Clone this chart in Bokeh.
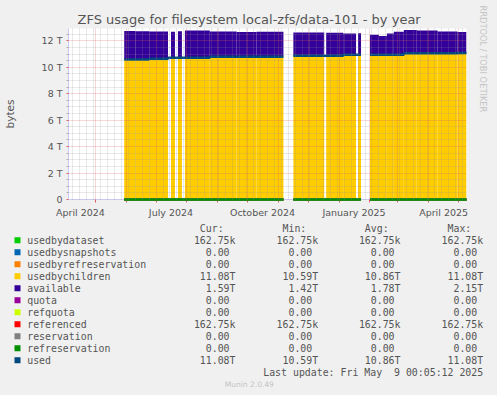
import math
from datetime import datetime, timedelta
from bokeh.plotting import figure
from bokeh.layouts import column
from bokeh.models import Range1d, FixedTicker, Title
from bokeh.core.properties import value
from bokeh.embed import file_html
from bokeh.resources import INLINE

nan = float("nan")
T = 1e12

# ---------------- data ----------------
title_text = "ZFS usage for filesystem local-zfs/data-101 - by year"
range_start = "2024-04-04 00:05"
range_end = "2025-05-09 00:05"

# start of each sample interval (each interval lasts until the next start)
interval_starts = ["2024-05-30", "2024-06-10", "2024-06-24", "2024-07-13", "2024-07-16",
                   "2024-07-20", "2024-07-23", "2024-07-27", "2024-07-30", "2024-08-24",
                   "2024-09-20", "2024-10-10", "2024-11-06", "2024-11-16", "2024-12-17",
                   "2024-12-19", "2025-01-05", "2025-01-18", "2025-01-20", "2025-01-23",
                   "2025-02-01", "2025-02-10", "2025-02-18", "2025-02-25", "2025-03-07",
                   "2025-03-20", "2025-04-10", "2025-04-30"]
usedbychildren_T = [10.59, 10.59, 10.64, nan, 10.72, nan, 10.72, nan, 10.72, 10.80,
                    10.80, 10.80, nan, 10.87, nan, 10.87, 10.95, nan, 10.95, nan,
                    10.95, 10.95, 10.95, 10.95, 11.05, 11.05, 11.05, 11.08]
available_T = [2.15, 2.13, 2.06, nan, 1.97, nan, 2.00, nan, 2.05, 1.90,
               1.86, 1.88, nan, 1.75, nan, 1.73, 1.60, nan, 1.62, nan,
               1.51, 1.42, 1.60, 1.73, 1.77, 1.72, 1.65, 1.59]
used_T = [10.59, 10.59, 10.64, 10.72, 10.72, 10.72, 10.72, 10.72, 10.72, 10.80,
          10.80, 10.80, nan, 10.87, 10.87, 10.87, 10.95, 10.95, 10.95, nan,
          10.95, 10.95, 10.95, 10.95, 11.05, 11.05, 11.05, 11.08]

series_names = ["usedbydataset", "usedbysnapshots", "usedbyrefreservation", "usedbychildren",
                "available", "quota", "refquota", "referenced", "reservation",
                "refreservation", "used"]
series_colors = ["#00CC00", "#0066B3", "#FF8000", "#FFCC00", "#330099", "#990099",
                 "#CCFF00", "#FF0000", "#808080", "#008F00", "#00487D"]
cur_vals = [162.75e3, 0, 0, 11.08e12, 1.59e12, 0, 0, 162.75e3, 0, 0, 11.08e12]
min_vals = [162.75e3, 0, 0, 10.59e12, 1.42e12, 0, 0, 162.75e3, 0, 0, 10.59e12]
avg_vals = [162.75e3, 0, 0, 10.86e12, 1.78e12, 0, 0, 162.75e3, 0, 0, 10.86e12]
max_vals = [162.75e3, 0, 0, 11.08e12, 2.15e12, 0, 0, 162.75e3, 0, 0, 11.08e12]
column_heads = ["Cur:", "Min:", "Avg:", "Max:"]

y_tick_values = [0, 2, 4, 6, 8, 10, 12]
y_tick_labels = ["0", "2 T", "4 T", "6 T", "8 T", "10 T", "12 T"]
x_label_dates = ["2024-04-16", "2024-07-16", "2024-10-16", "2025-01-16", "2025-04-16"]
x_label_texts = ["April 2024", "July 2024", "October 2024", "January 2025", "April 2025"]
last_update_text = "Last update: Fri May\u00a0 9 00:05:12 2025"
munin_text = "Munin 2.0.49"
rrd_text = "RRDTOOL / TOBI OETIKER"

# ---------------- helpers ----------------
EPOCH = datetime(1970, 1, 1)


def dt(s):
    return datetime.fromisoformat(s)


def ms(d):
    return (d - EPOCH).total_seconds() * 1000.0


starts = [dt(s) for s in interval_starts]
edges = starts + [dt(range_end)]


def runs(vals):
    out, i, n = [], 0, len(vals)
    while i < n:
        if math.isnan(vals[i]):
            i += 1
            continue
        j = i
        while j + 1 < n and not math.isnan(vals[j + 1]):
            j += 1
        out.append((i, j))
        i = j + 1
    return out


# ---------------- chart figure ----------------
BG = "#F0F0F0"
TXT = "#555555"
W = 497
CH = 220
p = figure(width=W, height=CH, x_axis_type="datetime",
           x_range=Range1d(dt(range_start), dt(range_end)),
           y_range=Range1d(0, 12.93 * T),
           output_backend="svg", toolbar_location=None,
           min_border_left=66, min_border_right=31, min_border_top=28, min_border_bottom=17)
p.frame_align = False
p.background_fill_color = "white"
p.border_fill_color = BG
p.outline_line_color = None

p.title.text = title_text
p.title.align = "left"
p.title.offset = 9
p.title.standoff = 1
p.title.vertical_align = "middle"
p.title.text_font = "DejaVu Sans"
p.title.text_font_size = "13px"
p.title.text_font_style = "normal"
p.title.text_color = TXT

# vertical credit text on the right
p.add_layout(Title(text=rrd_text, align="left", offset=-23, standoff=19, vertical_align="top",
                   text_font="DejaVu Sans", text_font_size="8.3px", text_font_style="normal",
                   text_color="#C4C4C4"), "right")

# stacked areas
keep = [i for i in range(len(starts)) if not math.isnan(usedbychildren_T[i])]
left = [edges[i] for i in keep]
right = [edges[i + 1] for i in keep]
ch = [usedbychildren_T[i] * T for i in keep]
top = [(usedbychildren_T[i] + available_T[i]) * T for i in keep]
p.quad(left=left, right=right, bottom=0, top=ch, fill_color=series_colors[3], line_color=None)
p.quad(left=left, right=right, bottom=ch, top=top, fill_color=series_colors[4], line_color=None)

# grids on top of areas
month_starts = [datetime(2024, m, 1) for m in range(5, 13)] + [datetime(2025, m, 1) for m in range(1, 6)]
mondays = []
d = datetime(2024, 4, 8)
while d < dt(range_end):
    if d.day != 1:
        mondays.append(d)
    d += timedelta(days=7)
p.xgrid.ticker = FixedTicker(ticks=[ms(m) for m in month_starts], minor_ticks=[ms(m) for m in mondays])
p.ygrid.ticker = FixedTicker(ticks=[v * T for v in y_tick_values],
                             minor_ticks=[k * 0.5 * T for k in range(1, 26) if k % 4 != 0])
for g in (p.xgrid, p.ygrid):
    g.level = "overlay"
    g.grid_line_color = "#E06060"
    g.grid_line_alpha = 0.5
    g.grid_line_dash = "1 1"
    g.minor_grid_line_color = "#909090"
    g.minor_grid_line_alpha = 0.4
    g.minor_grid_line_dash = "1 1"

# lines drawn over the grid
line_runs = runs(used_T)
flat_order = [0, 5, 6, 7, 8, 9]
for idx in flat_order:
    for (i, j) in line_runs:
        xs = edges[i:j + 2]
        ys = [cur_vals[idx]] * len(xs)
        p.line(xs, ys, line_color=series_colors[idx], line_width=2.5, level="overlay")
for (i, j) in line_runs:
    xs = edges[i:j + 2]
    ys = [v * T for v in used_T[i:j + 1]] + [used_T[j] * T]
    p.step(xs, ys, mode="after", line_color=series_colors[10], line_width=2.5, level="overlay")

# axes
AX = "#C8C8F0"
p.xaxis.ticker = FixedTicker(ticks=[ms(dt(s)) for s in x_label_dates],
                             minor_ticks=[ms(m) for m in month_starts])
p.xaxis.major_label_overrides = {ms(dt(s)): t for s, t in zip(x_label_dates, x_label_texts)}
p.xaxis.major_tick_line_color = None
p.xaxis.major_tick_out = 0
p.xaxis.major_tick_in = 0
p.xaxis.minor_tick_line_color = "#E06060"
p.xaxis.minor_tick_out = 3
p.xaxis.minor_tick_in = 0
p.xaxis.major_label_standoff = 4
p.xaxis.axis_line_color = AX
p.xaxis.major_label_text_font = "DejaVu Sans"
p.xaxis.major_label_text_font_size = "9.5px"
p.xaxis.major_label_text_color = TXT

yax = p.yaxis[0]
yax.ticker = FixedTicker(ticks=[v * T for v in y_tick_values],
                         minor_ticks=[k * 0.5 * T for k in range(1, 26) if k % 4 != 0])
yax.major_label_overrides = {v * T: lab for v, lab in zip(y_tick_values, y_tick_labels)}
yax.major_tick_line_color = "#E06060"
yax.major_tick_out = 2
yax.major_tick_in = 0
yax.minor_tick_line_color = "#B0B0B0"
yax.minor_tick_out = 2
yax.minor_tick_in = 0
yax.major_label_standoff = 4
yax.axis_label = "bytes"
yax.axis_label_standoff = 23
yax.axis_label_text_font = "DejaVu Sans"
yax.axis_label_text_font_size = "10.5px"
yax.axis_label_text_font_style = "normal"
yax.axis_label_text_color = TXT
yax.axis_line_color = AX
yax.major_label_text_font = "DejaVu Sans"
yax.major_label_text_font_size = "9.5px"
yax.major_label_text_color = TXT

# ---------------- legend figure ----------------
LH = 395 - CH
q = figure(width=W, height=LH, x_range=Range1d(0, W), y_range=Range1d(LH, 0),
           output_backend="svg", toolbar_location=None,
           x_axis_location=None, y_axis_location=None,
           min_border_left=0, min_border_right=0, min_border_top=0, min_border_bottom=0)
q.frame_align = False
q.grid.visible = False
q.outline_line_color = None
q.background_fill_color = BG
q.border_fill_color = BG

MONO = value("DejaVu Sans Mono")
FS = "9.9px"
CW = 5.95
col_right = [235.0, 317.7, 400.0, 482.7]
head_y = 7.7
row_y = [19.7 + 12 * k for k in range(len(series_names))]


def si(v):
    for pw, s in ((1e12, "T"), (1e9, "G"), (1e6, "M"), (1e3, "k")):
        if abs(v) >= pw:
            return "%.2f%s" % (v / pw, s), True
    return "%.2f" % v, False


q.text(x=[c - 2 * CW for c in col_right], y=[head_y] * 4, text=column_heads,
       text_font=MONO, text_font_size=FS, text_color=TXT, text_align="right", text_baseline="middle")
q.rect(x=[17] * len(series_names), y=row_y, width=6, height=6, fill_color=series_colors, line_color=None)
q.text(x=[26.7] * len(series_names), y=row_y, text=series_names,
       text_font=MONO, text_font_size=FS, text_color=TXT, text_align="left", text_baseline="middle")
for c, vals in zip(col_right, (cur_vals, min_vals, avg_vals, max_vals)):
    txts, xs = [], []
    for v in vals:
        s, has_unit = si(v)
        txts.append(s)
        xs.append(c if has_unit else c - CW)
    q.text(x=xs, y=row_y, text=txts, text_font=MONO, text_font_size=FS, text_color=TXT,
           text_align="right", text_baseline="middle")
q.text(x=[482.7], y=[151.7], text=[last_update_text], text_font=MONO, text_font_size=FS,
       text_color=TXT, text_align="right", text_baseline="middle")
q.text(x=[248.8], y=[164.0], text=[munin_text], text_font=value("DejaVu Sans"), text_font_size="7.5px",
       text_color="#C4C4C4", text_align="center", text_baseline="middle")

layout = column(p, q, spacing=0)
layout.background = BG
open("out.html", "w").write(file_html(layout, INLINE))
